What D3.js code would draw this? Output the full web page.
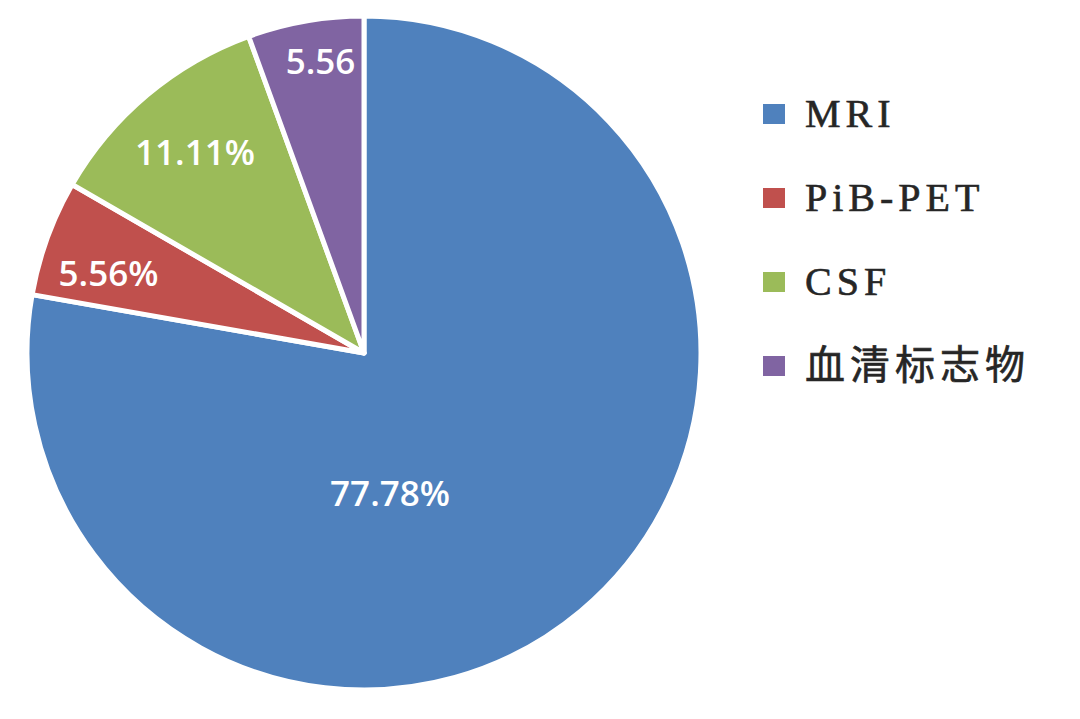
<!DOCTYPE html>
<html><head><meta charset="utf-8">
<script src="https://cdn.jsdelivr.net/npm/d3@7"></script>
<style>html,body{margin:0;padding:0;background:#fff;}</style>
</head><body>
<svg id="chart" width="1080" height="719"></svg>
<script>
const categories = ["MRI", "PiB-PET", "CSF", "血清标志物"];
const values = [77.78, 5.56, 11.11, 5.56];
const labels = ["77.78%", "5.56%", "11.11%", "5.56"];
const colors = ["#4F81BD", "#C0504D", "#9BBB59", "#8064A2"];

const svg = d3.select("#chart");
const cx = 364, cy = 353, R = 337;
const g = svg.append("g").attr("transform", `translate(${cx},${cy})`);

const pie = d3.pie().sort(null).value(d => d);
const arcs = pie(values);
const arc = d3.arc().innerRadius(0).outerRadius(R);

g.selectAll("path").data(arcs).enter().append("path")
  .attr("d", arc)
  .attr("fill", (d, i) => colors[i])
  .attr("stroke", "#fff")
  .attr("stroke-width", 5)
  .attr("stroke-linejoin", "round");

// label placement (layout): radius fraction and optional angle override
const deg = Math.PI / 180;
const labelLayout = [
  {rf: 0.42, ang: 169.4 * deg},
  {rf: 0.795, ang: 287.5 * deg},
  {rf: 0.78},
  {rf: 0.88, dx: 8}
];
g.selectAll("text.lbl").data(arcs).enter().append("text")
  .attr("class", "lbl")
  .each(function(d, i) {
    const L = labelLayout[i];
    const a = L.ang !== undefined ? L.ang : (d.startAngle + d.endAngle) / 2;
    const r = R * L.rf;
    d3.select(this)
      .attr("x", Math.sin(a) * r + (L.dx || 0))
      .attr("y", -Math.cos(a) * r)
      .text(labels[i]);
  })
  .attr("text-anchor", "middle")
  .attr("dominant-baseline", "central")
  .attr("fill", "#fff")
  .attr("font-family", "'Open Sans', sans-serif")
  .attr("font-weight", 600)
  .attr("font-size", 35);

// legend
const legend = svg.append("g");
const ly = d3.scalePoint().domain(categories).range([114, 366]);
const item = legend.selectAll("g").data(categories).enter().append("g")
  .attr("transform", d => `translate(0,${ly(d)})`);
item.append("rect")
  .attr("x", 763).attr("y", -10).attr("width", 22).attr("height", 20)
  .attr("fill", (d, i) => colors[i]);
item.append("text")
  .attr("x", 805).attr("y", 13)
  .attr("fill", "#262626")
  .attr("stroke", "#262626")
  .attr("stroke-width", 0.6)
  .attr("font-family", "'Liberation Serif', 'Noto Sans CJK SC', serif")
  .attr("font-size", 40)
  .attr("letter-spacing", 5)
  .text(d => d);
</script>
</body></html>
